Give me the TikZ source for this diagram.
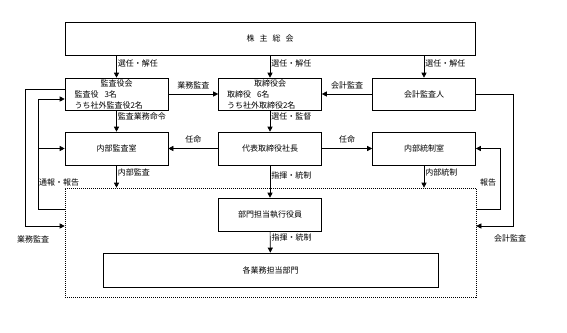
\documentclass[tikz,border=0pt]{standalone}
\usepackage{fontspec}
\setmainfont{Noto Sans CJK JP}
\usepackage{tikz}
\usetikzlibrary{arrows.meta,positioning,calc}

\begin{document}
\begin{tikzpicture}[x=1pt,y=-1pt,
  box/.style={rectangle, draw, line width=0.6pt, inner sep=0pt, minimum width=103pt, minimum height=33pt, font=\fontsize{8}{11}\selectfont},
  arr/.style={-{Triangle[length=5pt,width=5pt]}, line width=0.6pt},
  lbl/.style={font=\fontsize{8}{9}\selectfont, inner sep=1pt}]
  \useasboundingbox (0,0) rectangle (567,332);

  \node (agm) [box, minimum width=410pt] at (270,38.5) {株\hspace{5pt}主\hspace{5pt}総\hspace{5pt}会};
  \node (aud) [box, minimum height=32pt, text width=84pt, align=left] at (116.5,94) {\makebox[84pt]{監査役会}\\監査役\hspace{6pt}3名\\うち社外監査役2名};
  \node (brd) [box, minimum height=32pt, text width=86pt, align=left] at (270,94) {\makebox[86pt]{取締役会}\\取締役\hspace{6pt}6名\\うち社外取締役2名};
  \node (acc) [box, minimum height=32pt] at (424,94) {会計監査人};
  \node (iaud) [box] at (116.5,148.5) {内部監査室};
  \node (ceo) [box] at (270,148.5) {代表取締役社長};
  \node (ictl) [box] at (424,148.5) {内部統制室};
  \node (grp) [rectangle, draw, line width=0.6pt, dash pattern=on 1pt off 1pt, minimum width=411pt, minimum height=109pt] at (270.5,242.5) {};
  \node (exec) [box] at (270,214.5) {部門担当執行役員};
  \node (dept) [box, minimum width=335pt, minimum height=34pt] at (270.5,270) {各業務担当部門};

  % top level
  \draw[arr] (agm.south -| aud) -- node[lbl, right, pos=0.35] {選任・解任} (aud);
  \draw[arr] (agm.south -| brd) -- node[lbl, right, pos=0.35] {選任・解任} (brd);
  \draw[arr] (agm.south -| acc) -- node[lbl, right, pos=0.35] {選任・解任} (acc);
  \draw[arr] (aud) -- node[lbl, above=4pt] {業務監査} (brd);
  \draw[arr] (acc) -- node[lbl, above=4pt] {会計監査} (brd);

  % second level
  \draw[arr] (aud) -- node[lbl, right, pos=0.3] {監査業務命令} (iaud);
  \draw[arr] (brd) -- node[lbl, right, pos=0.3] {選任・監督} (ceo);
  \draw[arr] (ceo) -- node[lbl, above=4pt] {任命} (iaud);
  \draw[arr] (ceo) -- node[lbl, above=4pt] {任命} (ictl);

  % into the group
  \draw[arr] (iaud) -- node[lbl, right, pos=0.3] {内部監査} (grp.north -| iaud);
  \draw[arr] (ceo) -- node[lbl, right, pos=0.3] {指揮・統制} (exec);
  \draw[arr] (ictl) -- node[lbl, right, pos=0.3] {内部統制} (grp.north -| ictl);
  \draw[arr] (exec) -- node[lbl, right, pos=0.3] {指揮・統制} (dept);

  % left loops
  \coordinate (lout) at (25,226);
  \coordinate (lin) at (38,209);
  \draw[arr] ([yshift=5pt]aud.west) -| (lout) -- (grp.west |- lout);
  \draw[arr] (grp.west |- lin) -- (lin) |- ([yshift=-5pt]aud.west);
  \draw[arr] (lin |- iaud) -- (iaud);
  \node (l1) [lbl, anchor=west] at (38,182) {通報・報告};
  \node (l2) [lbl] at (33,239) {業務監査};

  % right loops
  \coordinate (rout) at (513,226);
  \coordinate (rin) at (500,209);
  \draw[arr] (acc.east) -| (rout) -- (grp.east |- rout);
  \draw[arr] (grp.east |- rin) -- (rin) |- (ictl.east);
  \node (r1) [lbl] at (488,182) {報告};
  \node (r2) [lbl] at (510,238) {会計監査};
\end{tikzpicture}
\end{document}
